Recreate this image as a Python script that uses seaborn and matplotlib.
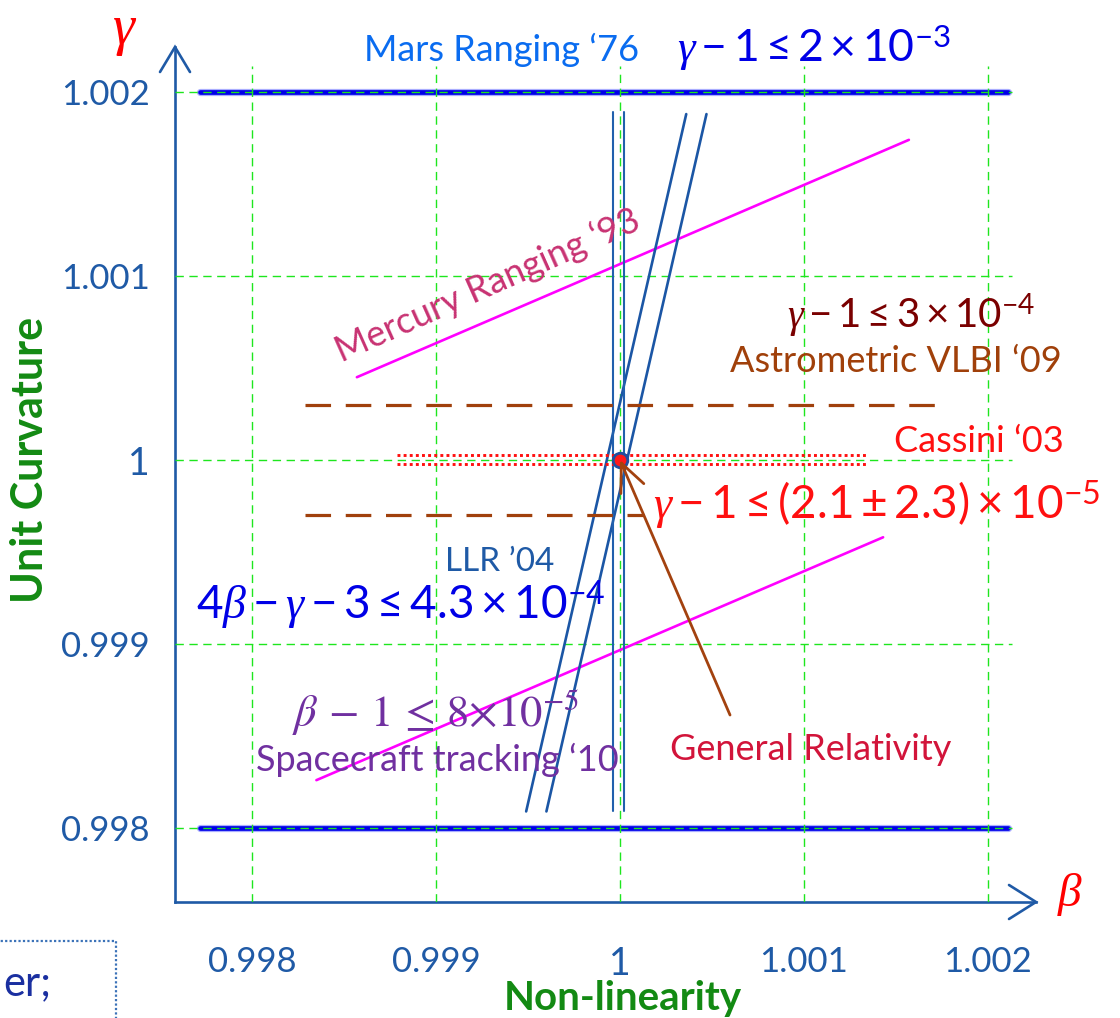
import numpy as np
import matplotlib
matplotlib.use("Agg")
import matplotlib.pyplot as plt
import matplotlib.patheffects as pe
from matplotlib.patches import Rectangle
import seaborn as sns

# ---------------- data ----------------
beta_ticks = [0.998, 0.999, 1.0, 1.001, 1.002]
beta_tick_labels = ["0.998", "0.999", "1", "1.001", "1.002"]
gamma_ticks = [0.998, 0.999, 1.0, 1.001, 1.002]
gamma_tick_labels = ["0.998", "0.999", "1", "1.001", "1.002"]

# Mars ranging '76: |gamma - 1| <= 2e-3
mars_gamma = [1.002, 0.998]
mars_beta = [0.99772, 1.00211]

# Mercury ranging '93 band edges
mercury_upper_beta = [0.99857, 1.00157]
mercury_upper_gamma = [1.00045, 1.00174]
mercury_lower_beta = [0.99835, 1.00143]
mercury_lower_gamma = [0.99826, 0.99958]

# LLR '04: 4*beta - gamma - 3 band
llr_left_beta = [0.99949, 1.00036]
llr_right_beta = [0.99960, 1.00047]
llr_gamma = [0.99809, 1.00188]

# Spacecraft tracking '10: beta band
sc_beta = [0.99996, 1.00002]
sc_gamma = [0.99809, 1.00189]

# Astrometric VLBI '09: |gamma - 1| <= 3e-4
vlbi_gamma = [1.0003, 0.9997]
vlbi_beta_start = [0.99829, 0.99829]
vlbi_beta_end = [1.00171, 1.00013]

# Cassini '03
cassini_gamma = [1.000027, 0.999978]
cassini_beta = [0.99879, 1.00134]

# General Relativity
gr_beta = [1.0]
gr_gamma = [1.0]

# ---------------- style ----------------
sns.set_theme(style="white")
plt.rcParams["font.family"] = ["Lato", "DejaVu Sans"]
plt.rcParams["mathtext.fontset"] = "custom"
plt.rcParams["mathtext.rm"] = "Lato"
plt.rcParams["mathtext.it"] = "Liberation Serif:italic"
plt.rcParams["mathtext.bf"] = "Lato:bold"

AXIS_BLUE = "#1f5aa6"
GRID_GREEN = "#1ee61e"

fig = plt.figure(figsize=(11.2, 10.18), dpi=100)
fig.patch.set_facecolor("white")
ax = fig.add_axes([0.15625, 0.113949, 0.76875, 0.839882])
ax.set_facecolor("white")
ax.set_xlim(0.9975815, 1.0022609)
ax.set_ylim(0.9975978, 1.0022446)


def seg(x, y, **kw):
    sns.lineplot(x=x, y=y, ax=ax, estimator=None, sort=False, legend=False, **kw)


# Mars ranging bounds (thick blue with pale halo)
for g in mars_gamma:
    seg(mars_beta, [g, g], color="#0000e8", linewidth=3.4, zorder=2,
        path_effects=[pe.Stroke(linewidth=5.2, foreground="#a9adff"), pe.Normal()])

# grid
x_end = 1.00213
y_end = 1.00214
ax.hlines(gamma_ticks, ax.get_xlim()[0], x_end, colors=GRID_GREEN,
          linestyles=(0, (6, 4)), linewidth=1.0, zorder=3)
ax.vlines(beta_ticks, ax.get_ylim()[0], y_end, colors=GRID_GREEN,
          linestyles=(0, (6, 4)), linewidth=1.0, zorder=3)

# Mercury ranging
seg(mercury_upper_beta, mercury_upper_gamma, color="#ff00ff", linewidth=1.9, zorder=4)
seg(mercury_lower_beta, mercury_lower_gamma, color="#ff00ff", linewidth=1.9, zorder=4)

# LLR
seg(llr_left_beta, llr_gamma, color="#1b56a5", linewidth=1.9, zorder=4)
seg(llr_right_beta, llr_gamma, color="#1b56a5", linewidth=1.9, zorder=4)

# spacecraft tracking
for b in sc_beta:
    seg([b, b], sc_gamma, color="#2160ad", linewidth=1.5, zorder=4)

# Astrometric VLBI
for g, b0, b1 in zip(vlbi_gamma, vlbi_beta_start, vlbi_beta_end):
    seg([b0, b1], [g, g], color="#a0400c", linewidth=2.3,
        linestyle=(0, (8, 4.6)), zorder=4)

# Cassini
for g in cassini_gamma:
    seg(cassini_beta, [g, g], color="#ff1010", linewidth=2.1,
        linestyle=(0, (1, 1.1)), zorder=4)

# General Relativity point
sns.scatterplot(x=gr_beta, y=gr_gamma, ax=ax, s=110, color="#ff1a1a",
                edgecolor="#1f4fa0", linewidth=2.0, zorder=6, legend=False)
ax.annotate("", xy=(gr_beta[0], gr_gamma[0]), xytext=(1.000598, 0.998614),
            arrowprops=dict(arrowstyle="->,head_length=1.0,head_width=0.45",
                            mutation_scale=20, color="#a3420f", lw=2.0,
                            shrinkA=0, shrinkB=0),
            zorder=7)

# ---------------- axes ----------------
for side in ["top", "right"]:
    ax.spines[side].set_visible(False)
for side in ["left", "bottom"]:
    ax.spines[side].set_color(AXIS_BLUE)
    ax.spines[side].set_linewidth(1.9)

ax.set_xticks(beta_ticks, labels=beta_tick_labels)
ax.set_yticks(gamma_ticks, labels=gamma_tick_labels)
ax.set_xticks(np.round(np.arange(0.9978, 1.00201, 0.0002), 4), minor=True)
ax.set_yticks(np.round(np.arange(0.9978, 1.00201, 0.0002), 4), minor=True)
ax.tick_params(which="both", direction="in", length=8.5, width=1.3,
               color="#5f8cc6", labelcolor=AXIS_BLUE, labelsize=25)
ax.tick_params(axis="x", which="major", pad=32)
ax.tick_params(axis="y", which="major", pad=18)
for lbl in ax.get_xticklabels() + ax.get_yticklabels():
    if lbl.get_text() == "1":
        lbl.set_fontsize(27)
ax.grid(False)

# arrowheads on the axes
ax.plot([-15 / 861, 0, 15 / 861], [1 - 25 / 855, 1, 1 - 25 / 855],
        transform=ax.transAxes, color=AXIS_BLUE, lw=1.9, clip_on=False,
        solid_capstyle="round", solid_joinstyle="miter")
ax.plot([1 - 27 / 861, 1, 1 - 27 / 861], [17 / 855, 0, -17 / 855],
        transform=ax.transAxes, color=AXIS_BLUE, lw=1.9, clip_on=False,
        solid_capstyle="round", solid_joinstyle="miter")

# axis titles
fig.text(30 / 1120, 1 - 460 / 1018, "Unit Curvature", rotation=90,
         ha="center", va="center", color="#138a13", fontsize=31,
         fontweight="bold")
fig.text(623 / 1120, 1 - 1010 / 1018, "Non-linearity", ha="center",
         va="baseline", color="#138a13", fontsize=29, fontweight="bold")
fig.text(125 / 1120, 1 - 32 / 1018, r"$\gamma$", ha="center", va="center",
         color="#ff0000", fontsize=40)
fig.text(1070 / 1120, 1 - 895 / 1018, r"$\beta$", ha="center", va="center",
         color="#ff0000", fontsize=34)

# ---------------- annotations ----------------
ax.text(0.999359, 1.002228, "Mars Ranging \u201876", ha="center",
        va="center", color="#0a6cf0", fontsize=26, zorder=8)
ax.text(1.001054, 1.002240, r"$\gamma-1\leq2\times10^{-3}$", ha="center",
        va="center", color="#0000e6", fontsize=32, zorder=8)
ax.text(0.999283, 1.000951, "Mercury Ranging \u201893", ha="center",
        va="center", rotation=24, rotation_mode="anchor", color="#c83272",
        fontsize=26, zorder=8)
ax.text(1.002255, 1.000788, r"$\gamma-1\leq3\times10^{-4}$", ha="right",
        va="center", color="#7a0000", fontsize=29, zorder=8)
ax.text(1.002402, 1.000533, "Astrometric VLBI \u201809", ha="right",
        va="center", color="#a0400a", fontsize=26, zorder=8)
ax.text(1.002413, 1.000098, "Cassini \u201803", ha="right", va="center",
        color="#ff1010", fontsize=26, zorder=8)
ax.text(1.002609, 0.999755, r"$\gamma-1\leq(2.1\pm2.3)\times10^{-5}$",
        ha="right", va="center", color="#ff1010", fontsize=33, zorder=8)
ax.text(0.999348, 0.999446, "LLR \u201904", ha="center", va="center",
        color=AXIS_BLUE, fontsize=24, zorder=8)
ax.text(0.998810, 0.999212, r"$4\beta-\gamma-3\leq4.3\times10^{-4}$",
        ha="center", va="center", color="#0000e6", fontsize=33, zorder=8)
ax.text(0.999000, 0.998625, r"$\beta\,-\,1\,\leq\,8{\times}10^{-5}$",
        ha="center", va="center", color="#7030a0", fontsize=32,
        math_fontfamily="stix", zorder=8)
ax.text(0.999005, 0.998370, "Spacecraft tracking \u201810", ha="center",
        va="center", color="#7030a0", fontsize=26, zorder=8)
ax.text(1.001038, 0.998424, "General Relativity", ha="center", va="center",
        color="#d2143a", fontsize=26, zorder=8)

# partial note box at the lower-left corner
fig.patches.append(Rectangle((-200 / 1120, -50 / 1018), 316 / 1120,
                             127 / 1018, transform=fig.transFigure,
                             fill=False, edgecolor="#3b72b8", lw=1.6,
                             linestyle=(0, (1, 1))))
fig.text(3 / 1120, 1 - 995 / 1018, "er;", ha="left", va="baseline",
         color="#1a2fa0", fontsize=30)

fig.savefig("out.png", dpi=100)
